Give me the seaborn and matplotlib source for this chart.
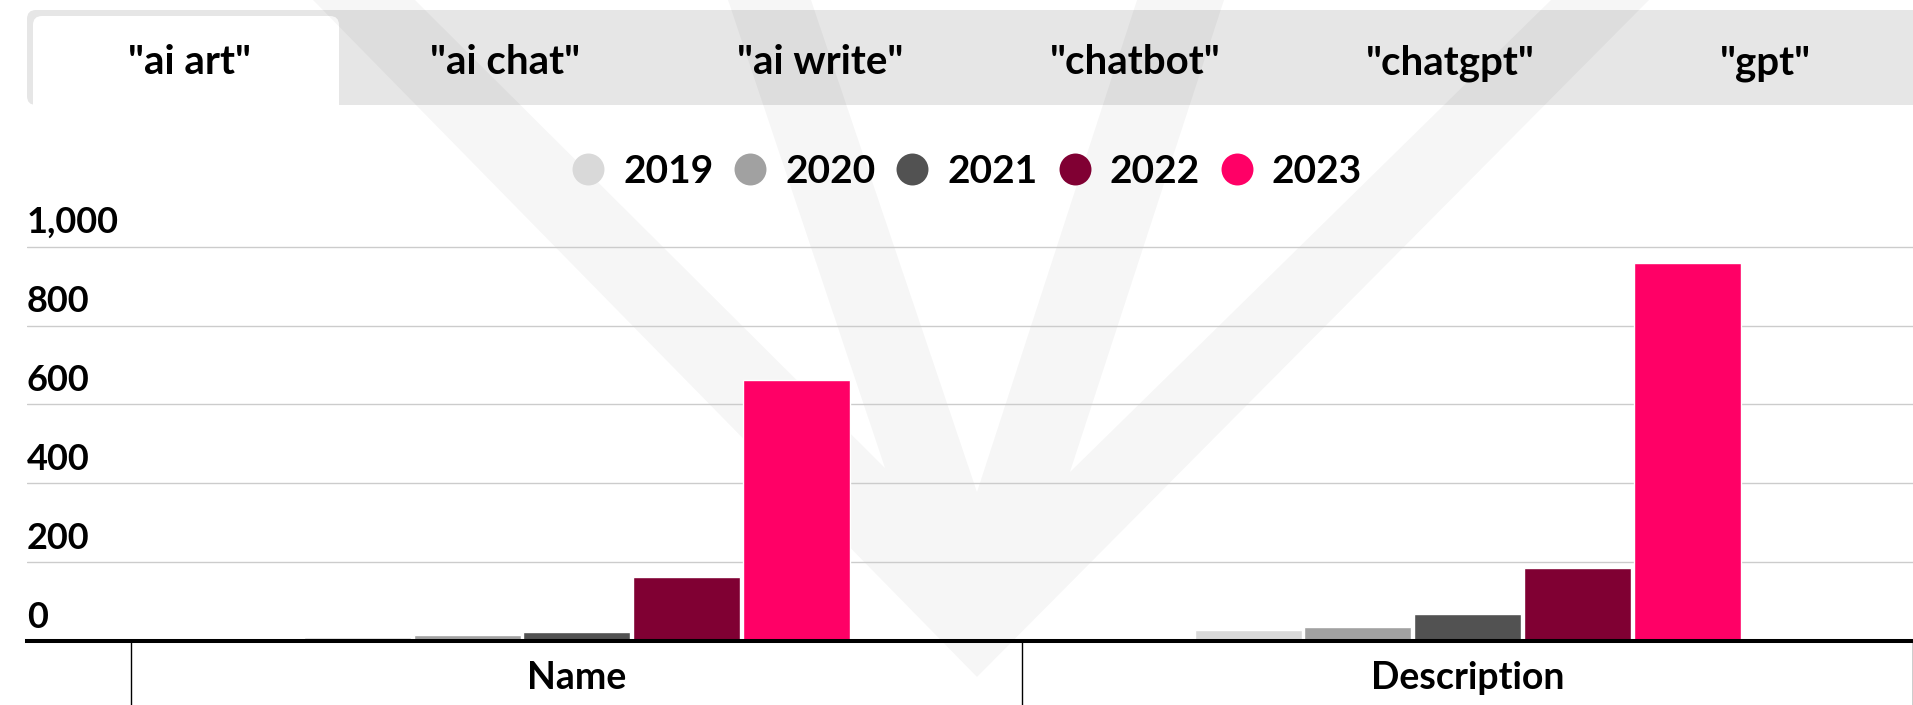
import matplotlib
matplotlib.use("Agg")
import matplotlib.pyplot as plt
import seaborn as sns
import pandas as pd
from matplotlib.patches import FancyBboxPatch, Polygon
from matplotlib.lines import Line2D
from matplotlib.transforms import Affine2D, ScaledTranslation, blended_transform_factory

W, H = 1913, 705

# data
fields = ["Name", "Description"]
years = ["2019", "2020", "2021", "2022", "2023"]
name_counts = [10, 15, 23, 162, 662]
description_counts = [28, 35, 68, 185, 958]
year_colors = ["#d9d9d9", "#a1a1a1", "#525252", "#800033", "#ff0066"]
tabs = ['"ai art"', '"ai chat"', '"ai write"', '"chatbot"', '"chatgpt"', '"gpt"']
y_ticks = [0, 200, 400, 600, 800, 1000]

sns.set_style("white")
plt.rcParams['font.family'] = ['Lato', 'DejaVu Sans']
plt.rcParams['font.weight'] = 'bold'
plt.rcParams['text.color'] = 'black'
plt.rcParams['xtick.color'] = 'black'
plt.rcParams['ytick.color'] = 'black'

df = pd.DataFrame({
    "field": [f for f in fields for _ in years],
    "year": years * len(fields),
    "count": name_counts + description_counts,
})

fig = plt.figure(figsize=(W / 100, H / 100), dpi=100)
# pixel coords, origin top-left
px = Affine2D().scale(1 / W, -1 / H).translate(0, 1) + fig.transFigure

# tab strip on top
fig.patches.append(FancyBboxPatch((27, 10), W, 95, boxstyle="round,pad=0,rounding_size=9",
                                  fc="#e6e6e6", ec="none", transform=px, zorder=-3))
fig.patches.append(FancyBboxPatch((33, 16), 306, 100, boxstyle="round,pad=0,rounding_size=9",
                                  fc="white", ec="none", transform=px, zorder=-3))
for i, t in enumerate(tabs):
    fig.text(190 + 315 * i, 74, t, transform=px, ha="center", va="baseline",
             fontsize=29, fontweight="bold", color="black")

# faint "V" watermark behind the chart
wm = [(313, 0), (415, 0), (885, 468), (728, 0), (811, 0), (977, 492), (1137, 0),
      (1224, 0), (1070, 472), (1551, 0), (1649, 0), (977, 677)]
fig.patches.append(Polygon(wm, closed=True, fc="black", alpha=0.035, ec="none",
                           transform=px, zorder=-2))

ax = fig.add_axes([27 / W, 1 - 641 / H, (W - 27) / W, (641 - 242.8) / H])
ax.patch.set_visible(False)

sns.barplot(data=df, x="field", y="count", hue="year", order=fields, hue_order=years,
            palette=year_colors, saturation=1, width=0.616, gap=0.025,
            legend=False, ax=ax)

ax.set_xlim(-0.6172, 1.4877)
ax.set_ylim(0, 1010)
ax.set_xlabel("")
ax.set_ylabel("")

ax.set_yticks(y_ticks)
ax.set_yticklabels([])
ax.tick_params(axis="y", length=0)
ax.yaxis.grid(True, color="#cccccc", linewidth=1.0)
ax.xaxis.grid(False)
ax.set_axisbelow(True)

ax.set_xticks([0, 1])
ax.set_xticklabels(fields, fontsize=27, fontweight="bold", color="black")
ax.set_xticks([-0.5, 0.5, 1.5], minor=True)
ax.tick_params(axis="x", which="major", bottom=True, length=0, pad=14.5)
ax.tick_params(axis="x", which="minor", bottom=True, length=52, width=1.0,
               color="black", direction="out")

for s in ["left", "top", "right"]:
    ax.spines[s].set_visible(False)
ax.spines["bottom"].set_linewidth(2.9)
ax.spines["bottom"].set_color("black")

# y labels sit above their grid lines
lab_tr = blended_transform_factory(ax.transAxes, ax.transData) + \
    ScaledTranslation(0, 13.5 / 100, fig.dpi_scale_trans)
for v in y_ticks:
    ax.text(0, v, f"{v:,}", transform=lab_tr, ha="left", va="baseline",
            fontsize=26, fontweight="bold", color="black")

handles = [Line2D([], [], marker="o", ls="", markersize=23, markerfacecolor=c,
                  markeredgecolor="none") for c in year_colors]
leg = fig.legend(handles, years, loc="center", bbox_to_anchor=(967 / W, 1 - 171.5 / H),
                 ncol=5, frameon=False, fontsize=28, handlelength=0.82, handletextpad=0.49,
                 columnspacing=0.54, borderpad=0, borderaxespad=0)
for t in leg.get_texts():
    t.set_color("black")

fig.savefig("out.png", dpi=100)
